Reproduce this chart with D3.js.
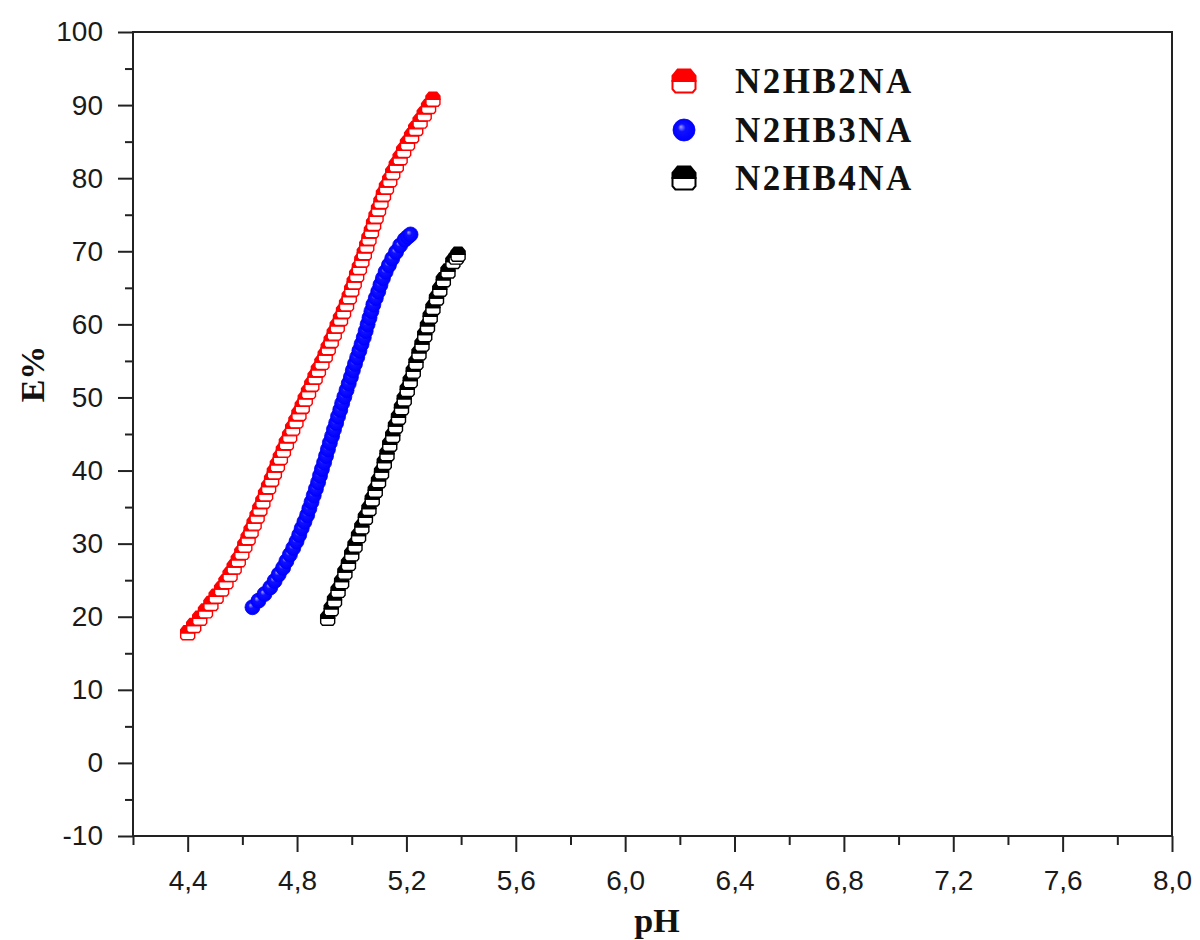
<!DOCTYPE html>
<html>
<head>
<meta charset="utf-8">
<script src="https://cdn.jsdelivr.net/npm/d3@7"></script>
<style>
  body { margin: 0; background: #fff; }
  svg { display: block; }
</style>
</head>
<body>
<svg id="chart" width="1200" height="940"></svg>
<script>
// ---------------- data ----------------
const seriesNames = ["N2HB2NA", "N2HB3NA", "N2HB4NA"];

const redPH = [4.400,4.422,4.444,4.465,4.485,4.504,4.524,4.540,4.555,4.570,4.585,4.598,4.609,4.621,4.632,4.643,4.654,4.664,4.675,4.685,4.696,4.707,4.717,4.728,4.739,4.750,4.761,4.773,4.784,4.796,4.807,4.819,4.830,4.842,4.854,4.866,4.878,4.891,4.903,4.914,4.925,4.936,4.947,4.959,4.970,4.981,4.991,5.000,5.009,5.018,5.028,5.037,5.046,5.055,5.063,5.072,5.080,5.089,5.098,5.107,5.116,5.127,5.139,5.150,5.163,5.177,5.190,5.204,5.219,5.234,5.250,5.265,5.281,5.297];
const redE = [17.8,18.8,19.8,20.8,21.8,22.8,23.8,24.8,25.8,26.8,27.8,28.8,29.8,30.8,31.8,32.8,33.8,34.8,35.8,36.8,37.8,38.8,39.8,40.8,41.8,42.8,43.8,44.8,45.8,46.8,47.8,48.8,49.8,50.8,51.8,52.8,53.8,54.8,55.8,56.8,57.8,58.8,59.8,60.8,61.8,62.8,63.8,64.8,65.8,66.8,67.8,68.8,69.8,70.8,71.8,72.8,73.8,74.8,75.8,76.8,77.8,78.8,79.8,80.8,81.8,82.8,83.8,84.8,85.8,86.8,87.8,88.8,89.8,90.8];

const bluePH = [4.637,4.659,4.681,4.702,4.718,4.733,4.749,4.761,4.774,4.786,4.798,4.808,4.817,4.827,4.837,4.845,4.853,4.861,4.869,4.877,4.884,4.891,4.899,4.906,4.913,4.920,4.928,4.935,4.943,4.950,4.958,4.965,4.973,4.981,4.989,4.997,5.004,5.012,5.020,5.028,5.036,5.044,5.051,5.058,5.065,5.072,5.079,5.088,5.097,5.105,5.114,5.124,5.136,5.148,5.162,5.177,5.194,5.206,5.215];
const blueE = [21.3,22.2,23.1,24.0,24.9,25.8,26.7,27.6,28.5,29.4,30.3,31.2,32.1,33.0,33.9,34.8,35.7,36.6,37.5,38.4,39.3,40.2,41.1,42.0,42.9,43.8,44.7,45.6,46.5,47.4,48.3,49.2,50.1,51.0,51.9,52.8,53.7,54.6,55.5,56.4,57.3,58.2,59.1,60.0,60.9,61.8,62.7,63.6,64.5,65.4,66.3,67.2,68.1,69.0,69.9,70.8,71.6,72.0,72.3];

const blackPH = [4.912,4.925,4.937,4.950,4.963,4.975,4.988,5.000,5.012,5.025,5.037,5.050,5.063,5.075,5.086,5.098,5.109,5.119,5.129,5.139,5.150,5.160,5.171,5.182,5.192,5.203,5.214,5.225,5.235,5.246,5.257,5.267,5.277,5.287,5.297,5.310,5.322,5.335,5.352,5.370,5.382,5.389];
const blackE = [19.8,21.1,22.3,23.6,24.8,26.1,27.3,28.6,29.8,31.1,32.3,33.6,34.8,36.1,37.3,38.6,39.8,41.1,42.3,43.6,44.8,46.1,47.3,48.6,49.8,51.1,52.3,53.6,54.8,56.1,57.3,58.6,59.8,61.1,62.3,63.6,64.8,66.1,67.3,68.6,69.2,69.6];

const xTicks = [4.4,4.8,5.2,5.6,6.0,6.4,6.8,7.2,7.6,8.0];
const xTickLabels = ["4,4","4,8","5,2","5,6","6,0","6,4","6,8","7,2","7,6","8,0"];
const xMinorTicks = [4.2,4.6,5.0,5.4,5.8,6.2,6.6,7.0,7.4,7.8];
const yTicks = [-10,0,10,20,30,40,50,60,70,80,90,100];
const yTickLabels = ["-10","0","10","20","30","40","50","60","70","80","90","100"];
const yMinorTicks = [-5,5,15,25,35,45,55,65,75,85,95];
const xTitle = "pH";
const yTitle = "E%";

// ---------------- drawing ----------------
const svg = d3.select("#chart");
const L = 133, R = 1172, T = 32, B = 836;
const x = d3.scaleLinear().domain([4.2, 8.0]).range([L, R]);
const y = d3.scaleLinear().domain([-10, 100]).range([B, T]);
const axisColor = "#222";

const defs = svg.append("defs");
const grad = defs.append("radialGradient").attr("id", "blueBall")
  .attr("cx", "50%").attr("cy", "50%").attr("r", "50%").attr("fx", "35%").attr("fy", "35%");
grad.append("stop").attr("offset", "0%").attr("stop-color", "#a0a0ff");
grad.append("stop").attr("offset", "35%").attr("stop-color", "#1010ff");
grad.append("stop").attr("offset", "100%").attr("stop-color", "#0000ff");

// axes (major)
const yAxis = d3.axisLeft(y).tickValues(yTicks).tickSize(15).tickPadding(15)
  .tickFormat((d, i) => yTickLabels[i]);
const gy = svg.append("g").attr("transform", `translate(${L},0)`).call(yAxis);
const xAxis = d3.axisBottom(x).tickValues(xTicks).tickSize(16).tickPadding(18)
  .tickFormat((d, i) => xTickLabels[i]);
const gx = svg.append("g").attr("transform", `translate(0,${B})`).call(xAxis);
// minor
const gym = svg.append("g").attr("transform", `translate(${L},0)`)
  .call(d3.axisLeft(y).tickValues(yMinorTicks).tickSize(8).tickFormat(""));
const gxm = svg.append("g").attr("transform", `translate(0,${B})`)
  .call(d3.axisBottom(x).tickValues(xMinorTicks).tickSize(9).tickFormat(""));

[gy, gx, gym, gxm].forEach(g => {
  g.select(".domain").remove();
  g.selectAll(".tick line").attr("stroke", axisColor).attr("stroke-width", 2);
  g.selectAll(".tick text")
    .attr("fill", "#1a1a1a")
    .style("font-family", "'Liberation Sans', Arial, sans-serif")
    .style("font-size", "28px");
});

// frame
const frame = svg.append("g").attr("stroke", axisColor).attr("stroke-width", 2).attr("fill", "none");
frame.append("line").attr("x1", L).attr("x2", L).attr("y1", T - 1).attr("y2", B + 1);
frame.append("line").attr("x1", L - 1).attr("x2", R + 1).attr("y1", B).attr("y2", B);
frame.append("line").attr("x1", L - 1).attr("x2", R + 1).attr("y1", T).attr("y2", T);
frame.append("line").attr("x1", R).attr("x2", R).attr("y1", T - 1).attr("y2", B + 1);

// axis titles
svg.append("text").attr("x", 657).attr("y", 932).attr("text-anchor", "middle")
  .style("font-family", "'Liberation Serif', 'Times New Roman', serif")
  .style("font-weight", "bold").style("font-size", "34px").attr("fill", "#111").text(xTitle);
svg.append("text").attr("transform", "translate(44,374) rotate(-90)").attr("text-anchor", "middle")
  .style("font-family", "'Liberation Serif', 'Times New Roman', serif")
  .style("font-weight", "bold").style("font-size", "34px").attr("fill", "#111").text(yTitle);

// marker shapes
function hatTop(r) {
  return `M${-r},0 L${-r},${-0.45*r} L${-0.55*r},${-r} L${0.55*r},${-r} L${r},${-0.45*r} L${r},0 Z`;
}
function hatBottom(r) {
  return `M${-r},0 L${-r},${0.7*r} L${-0.75*r},${r} L${0.75*r},${r} L${r},${0.7*r} L${r},0 Z`;
}
function drawHalf(g, r, color, sw) {
  g.append("path").attr("d", hatBottom(r)).attr("fill", "#fff").attr("stroke", color).attr("stroke-width", sw);
  g.append("path").attr("d", hatTop(r)).attr("fill", color).attr("stroke", color).attr("stroke-width", sw);
}
function drawBall(g, r) {
  g.append("circle").attr("r", r).attr("fill", "url(#blueBall)").attr("stroke", "#0000ff").attr("stroke-width", 0.8);
}

const series = [
  { name: seriesNames[0], ph: redPH, e: redE, color: "#ff0000", type: "half" },
  { name: seriesNames[1], ph: bluePH, e: blueE, color: "#0000ff", type: "ball" },
  { name: seriesNames[2], ph: blackPH, e: blackE, color: "#000000", type: "half" }
];

series.forEach(s => {
  const pts = s.ph.map((p, i) => ({ p, e: s.e[i] }));
  const g = svg.append("g");
  g.selectAll("g.pt").data(pts).enter().append("g").attr("class", "pt")
    .attr("transform", d => `translate(${x(d.p)},${y(d.e)})`)
    .each(function () {
      const m = d3.select(this);
      if (s.type === "half") drawHalf(m, 7, s.color, 1.4);
      else drawBall(m, 7.5);
    });
});

// legend
const legendRows = [81, 130, 178];
series.forEach((s, i) => {
  const g = svg.append("g").attr("transform", `translate(684,${legendRows[i]})`);
  if (s.type === "half") drawHalf(g, 11.5, s.color, 2);
  else drawBall(g, 11);
  svg.append("text").attr("x", 735).attr("y", legendRows[i] + 12)
    .style("font-family", "'Liberation Serif', 'Times New Roman', serif")
    .style("font-weight", "bold").style("font-size", "35px")
    .style("letter-spacing", "2.5px").attr("fill", "#111").text(s.name);
});
</script>
</body>
</html>
